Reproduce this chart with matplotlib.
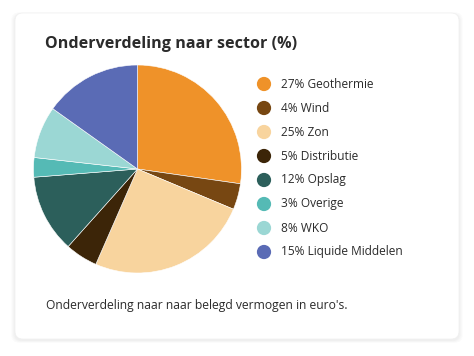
import matplotlib.pyplot as plt
from matplotlib.patches import FancyBboxPatch

sectoren = ["Geothermie", "Wind", "Zon", "Distributie", "Opslag", "Overige", "WKO", "Liquide Middelen"]
percentages = [27, 4, 25, 5, 12, 3, 8, 15]
kleuren = ["#EF9229", "#774712", "#F8D49E", "#3C2508", "#2C5F5B", "#55BAB5", "#9BD7D4", "#5A6BB5"]

titel = "Onderverdeling naar sector (%)"
voetnoot = "Onderverdeling naar naar belegd vermogen in euro's."

plt.rcParams['font.family'] = ['Open Sans', 'DejaVu Sans']

W, H = 474, 356
fig = plt.figure(figsize=(W / 100, H / 100), dpi=100)
fig.patch.set_facecolor("white")

# achtergrond met kaart en zachte schaduw
bg = fig.add_axes([0, 0, 1, 1])
bg.set_xlim(0, W)
bg.set_ylim(H, 0)
bg.axis("off")
for i in range(8, 0, -1):
    bg.add_patch(FancyBboxPatch((15 - i * 0.5, 13 - i * 0.3 + 1.5), 444 + i, 326 + i * 0.6,
                                boxstyle="round,pad=0,rounding_size=8",
                                fc="black", ec="none", alpha=0.006))
bg.add_patch(FancyBboxPatch((15, 13), 444, 326, boxstyle="round,pad=0,rounding_size=8",
                            fc="white", ec="#f0f0f0", lw=0.5))

bg.text(45, 44, titel, fontsize=11.6, fontweight="bold", color="#2b2b2b", va="center")
bg.text(46, 306, voetnoot, fontsize=8.7, color="#2b2b2b", va="center")

# legenda
y0, dy = 84, 24
for i, (naam, p, c) in enumerate(zip(sectoren, percentages, kleuren)):
    y = y0 + i * dy
    bg.scatter([264], [y], s=105, color=c, edgecolors="none")
    bg.text(281, y, f"{p}% {naam}", fontsize=8.6, color="#2b2b2b", va="center")

# taartdiagram
cx, cy, r = 137.5, 169, 104
ax = fig.add_axes([(cx - r) / W, (H - cy - r) / H, 2 * r / W, 2 * r / H])
ax.pie(percentages, colors=kleuren, startangle=90, counterclock=False, radius=1,
       wedgeprops=dict(edgecolor="white", linewidth=0.4))
ax.set_xlim(-1, 1)
ax.set_ylim(-1, 1)
ax.axis("off")

fig.savefig("out.png", dpi=100)
